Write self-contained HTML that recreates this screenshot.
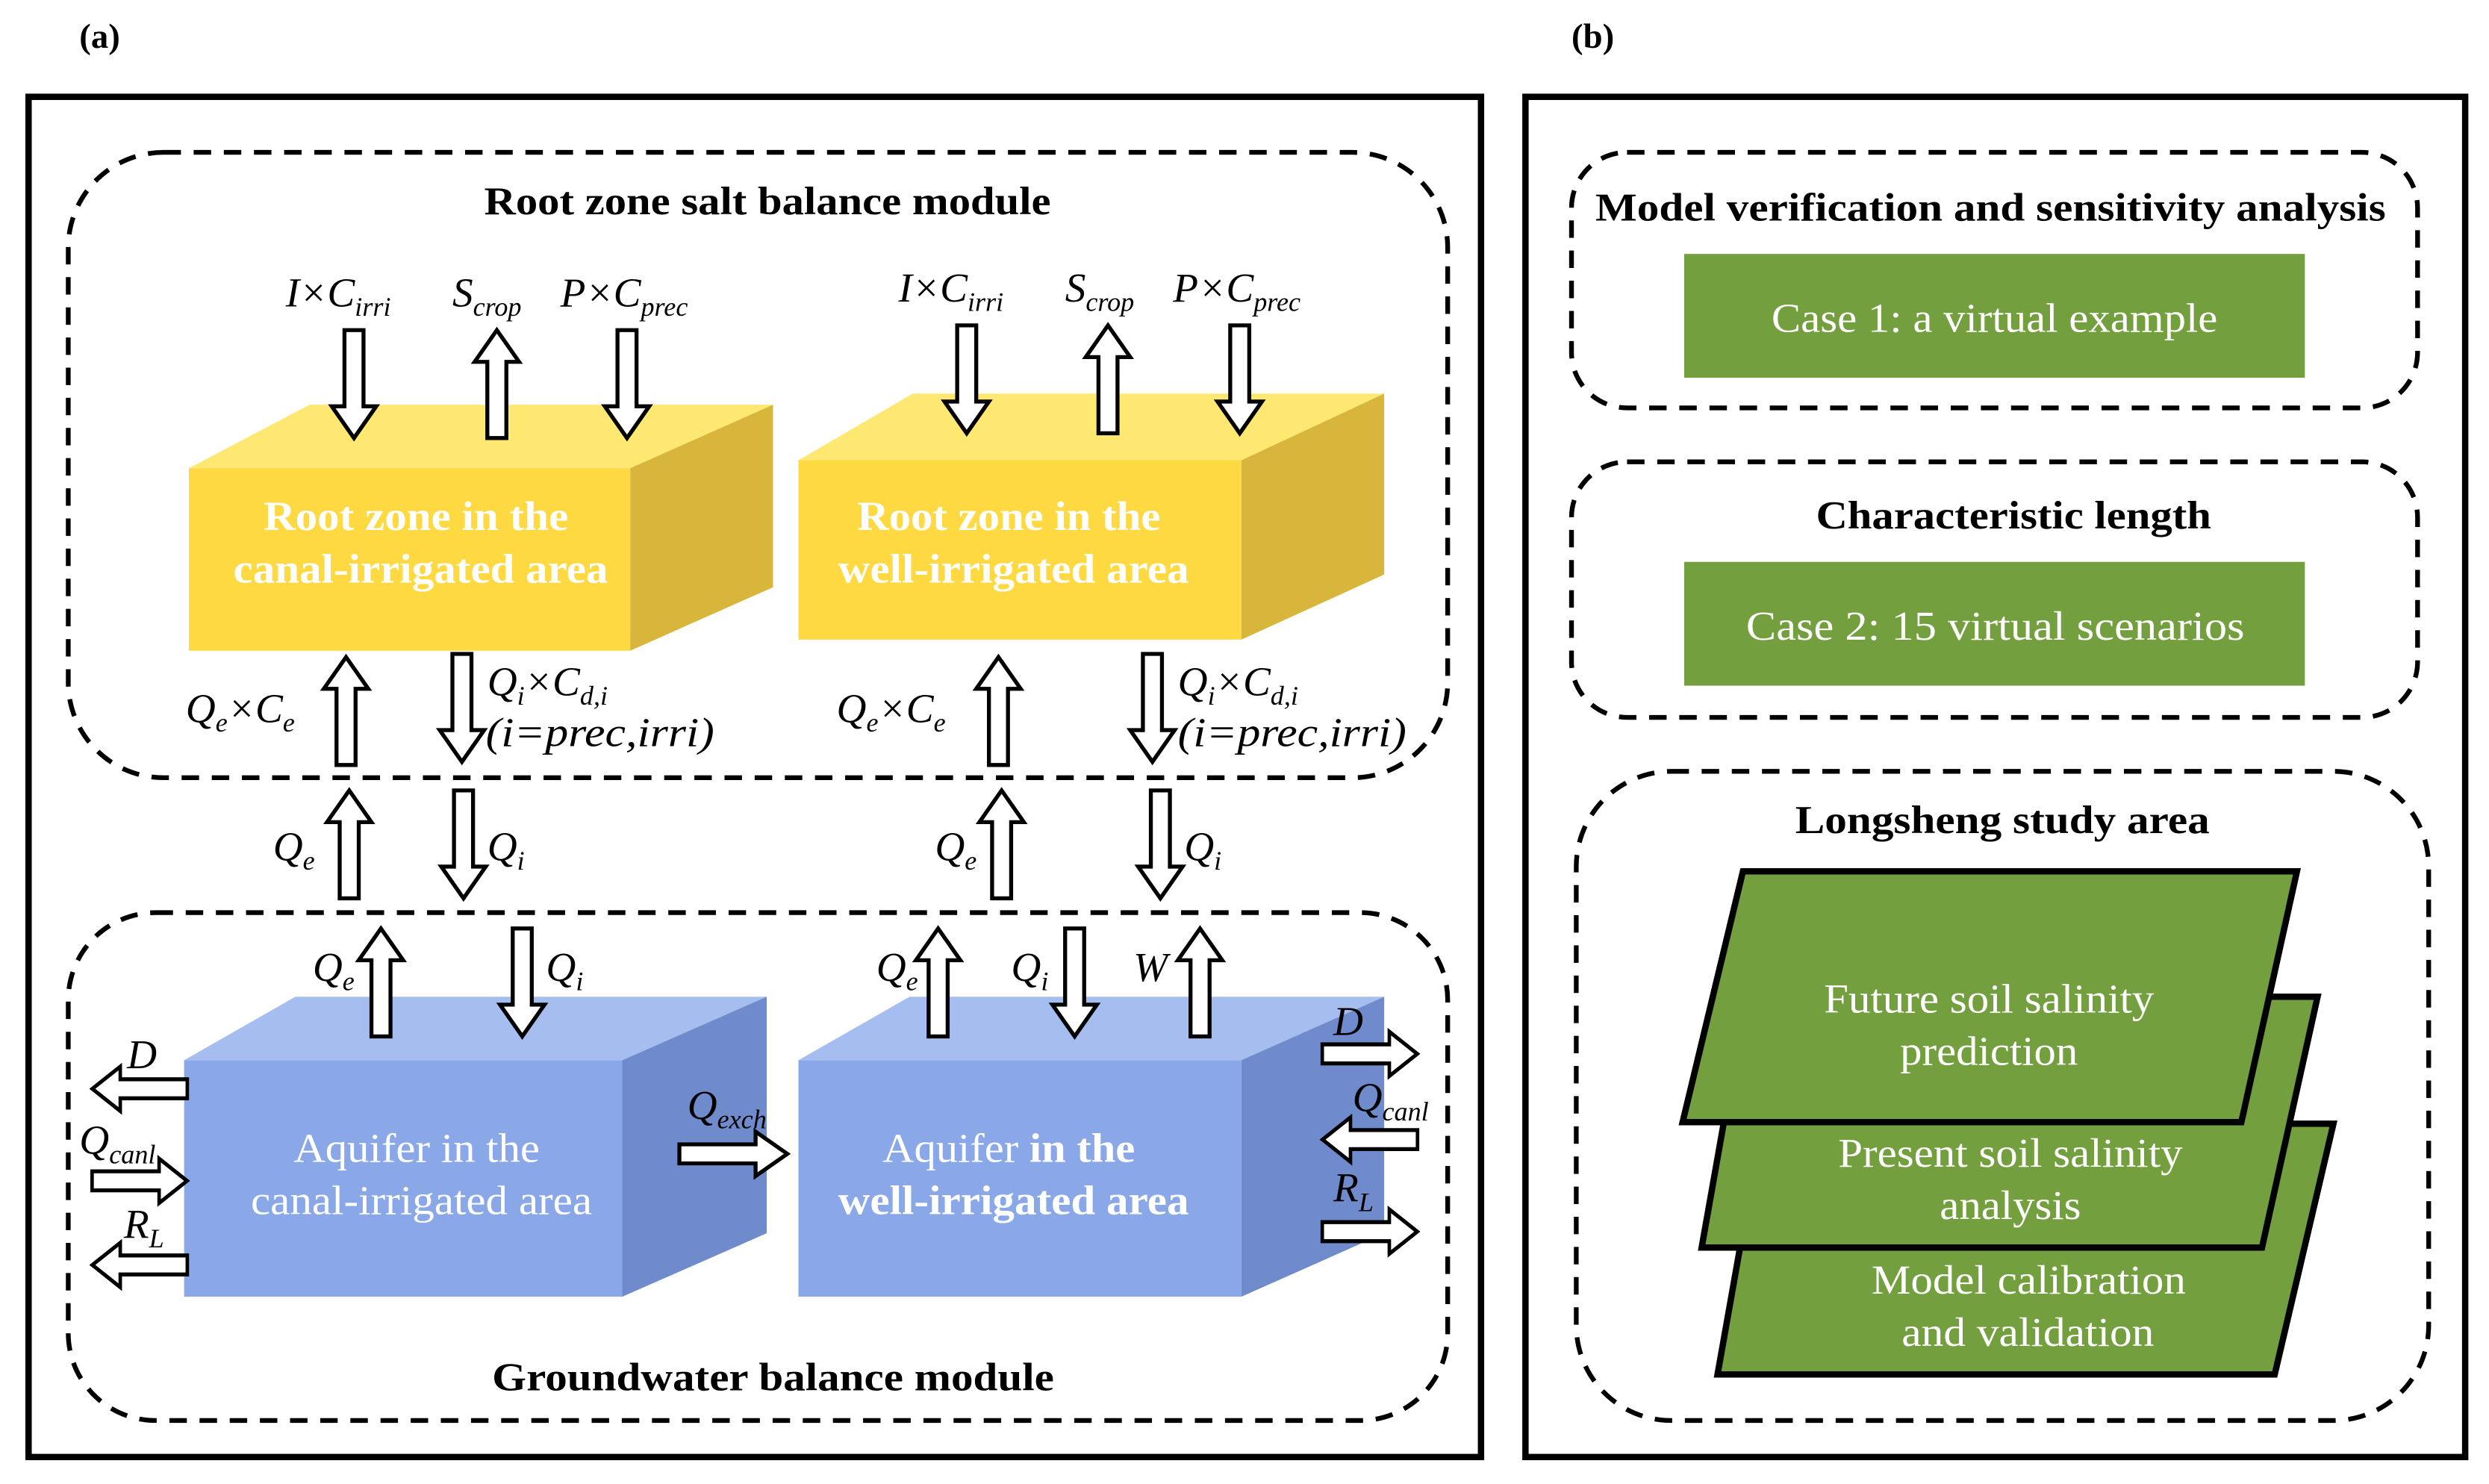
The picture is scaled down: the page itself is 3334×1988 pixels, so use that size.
<!DOCTYPE html>
<html><head><meta charset="utf-8"><style>
html,body{margin:0;padding:0;background:#fff;}
svg{display:block;}
text{font-family:"Liberation Serif",serif;}
.m{font-style:italic;font-size:26px;}
.s{font-size:17px;}
</style></head><body>
<svg width="3334" height="1988" viewBox="0 0 1568 935" preserveAspectRatio="none" xmlns="http://www.w3.org/2000/svg">
<defs>
<polygon id="dn" points="-6,0 6,0 6,48 14,48 0,68 -14,48 -6,48" fill="#fff" stroke="#000" stroke-width="2.5" stroke-linejoin="miter"/>
</defs>
<rect width="1568" height="935" fill="#fff"/>
<text x="50" y="30" font-size="22" font-weight="bold">(a)</text>
<text x="990" y="30" font-size="22" font-weight="bold">(b)</text>
<rect x="18" y="61" width="915" height="857" fill="none" stroke="#000" stroke-width="4"/>
<rect x="961" y="61" width="592" height="857" fill="none" stroke="#000" stroke-width="4"/>
<g fill="none" stroke="#000" stroke-width="3" stroke-dasharray="11,8">
<rect x="43" y="96" width="869" height="394" rx="60"/>
<rect x="43" y="575" width="869" height="320" rx="55"/>
<rect x="990" y="96" width="533" height="161" rx="35"/>
<rect x="990" y="291" width="533" height="161" rx="35"/>
<rect x="993" y="486" width="537" height="409" rx="60"/>
</g>
<g font-size="25" font-weight="bold" lengthAdjust="spacingAndGlyphs">
<text x="305" y="135" textLength="357" lengthAdjust="spacingAndGlyphs">Root zone salt balance module</text>
<text x="310" y="876" textLength="354" lengthAdjust="spacingAndGlyphs">Groundwater balance module</text>
<text x="1005" y="139" textLength="498" lengthAdjust="spacingAndGlyphs">Model verification and sensitivity analysis</text>
<text x="1144" y="333" textLength="249" lengthAdjust="spacingAndGlyphs">Characteristic length</text>
<text x="1131" y="525" textLength="261" lengthAdjust="spacingAndGlyphs">Longsheng study area</text>
</g>
<!-- yellow boxes -->
<polygon points="119,295 195,255 487,255 397,295" fill="#FFE871"/>
<polygon points="397,295 487,255 487,370 397,410" fill="#D8B63C"/>
<rect x="119" y="295" width="278" height="115" fill="#FFD942"/>
<polygon points="503,290 575,248 872,248 782,290" fill="#FFE871"/>
<polygon points="782,290 872,248 872,362 782,403" fill="#D8B63C"/>
<rect x="503" y="290" width="279" height="113" fill="#FFD942"/>
<g fill="#fff" font-size="26" font-weight="bold">
<text x="166" y="334" textLength="192" lengthAdjust="spacingAndGlyphs">Root zone in the</text>
<text x="147" y="367" textLength="236" lengthAdjust="spacingAndGlyphs">canal-irrigated area</text>
<text x="540" y="334" textLength="191" lengthAdjust="spacingAndGlyphs">Root zone in the</text>
<text x="528" y="367" textLength="221" lengthAdjust="spacingAndGlyphs">well-irrigated area</text>
</g>
<!-- blue boxes -->
<polygon points="116,668 186,628 483,628 392,668" fill="#A6BDF0"/>
<polygon points="392,668 483,628 483,777 392,817" fill="#6F8BCC"/>
<rect x="116" y="668" width="276" height="149" fill="#8AA8E8"/>
<polygon points="503,668 573,628 872,628 782,668" fill="#A6BDF0"/>
<polygon points="782,668 872,628 872,777 782,817" fill="#6F8BCC"/>
<rect x="503" y="668" width="279" height="149" fill="#8AA8E8"/>
<g fill="#fff" font-size="26">
<text x="185" y="732" textLength="155" lengthAdjust="spacingAndGlyphs">Aquifer in the</text>
<text x="158" y="765" textLength="215" lengthAdjust="spacingAndGlyphs">canal-irrigated area</text>
<text x="556" y="732" textLength="159" lengthAdjust="spacingAndGlyphs">Aquifer <tspan font-weight="bold">in the</tspan></text>
<text x="528" y="765" font-weight="bold" textLength="221" lengthAdjust="spacingAndGlyphs">well-irrigated area</text>
</g>
<!-- arrows vertical -->
<use href="#dn" transform="translate(223,208)"/>
<use href="#dn" transform="translate(313,276) scale(1,-1)"/>
<use href="#dn" transform="translate(395,208)"/>
<use href="#dn" transform="translate(609,205)"/>
<use href="#dn" transform="translate(698,273) scale(1,-1)"/>
<use href="#dn" transform="translate(781,205)"/>
<use href="#dn" transform="translate(218,482) scale(1,-1)"/>
<use href="#dn" transform="translate(291,412)"/>
<use href="#dn" transform="translate(629,482) scale(1,-1)"/>
<use href="#dn" transform="translate(726,412)"/>
<use href="#dn" transform="translate(220,566) scale(1,-1)"/>
<use href="#dn" transform="translate(292,498)"/>
<use href="#dn" transform="translate(631,566) scale(1,-1)"/>
<use href="#dn" transform="translate(731,498)"/>
<use href="#dn" transform="translate(240,653) scale(1,-1)"/>
<use href="#dn" transform="translate(329,585)"/>
<use href="#dn" transform="translate(591,653) scale(1,-1)"/>
<use href="#dn" transform="translate(677,585)"/>
<use href="#dn" transform="translate(756,653) scale(1,-1)"/>
<!-- horizontal -->
<use href="#dn" transform="translate(118,686) rotate(90) scale(1,0.88)"/>
<use href="#dn" transform="translate(58,744) rotate(-90) scale(1,0.88)"/>
<use href="#dn" transform="translate(118,797) rotate(90) scale(1,0.88)"/>
<use href="#dn" transform="translate(428,727) rotate(-90)"/>
<use href="#dn" transform="translate(833,664) rotate(-90) scale(1,0.88)"/>
<use href="#dn" transform="translate(893,718) rotate(90) scale(1,0.88)"/>
<use href="#dn" transform="translate(833,776) rotate(-90) scale(1,0.88)"/>
<!-- labels -->
<g class="m">
<text x="180" y="193">I×C<tspan class="s" dy="6">irri</tspan></text>
<text x="285" y="193">S<tspan class="s" dy="6">crop</tspan></text>
<text x="353" y="193">P×C<tspan class="s" dy="6">prec</tspan></text>
<text x="566" y="190">I×C<tspan class="s" dy="6">irri</tspan></text>
<text x="671" y="190">S<tspan class="s" dy="6">crop</tspan></text>
<text x="739" y="190">P×C<tspan class="s" dy="6">prec</tspan></text>
<text x="117" y="455">Q<tspan class="s" dy="6">e</tspan><tspan dy="-6">×C</tspan><tspan class="s" dy="6">e</tspan></text>
<text x="307" y="438">Q<tspan class="s" dy="6">i</tspan><tspan dy="-6">×C</tspan><tspan class="s" dy="6">d,i</tspan></text>
<text x="306" y="470" textLength="144" lengthAdjust="spacingAndGlyphs">(i=prec,irri)</text>
<text x="527" y="455">Q<tspan class="s" dy="6">e</tspan><tspan dy="-6">×C</tspan><tspan class="s" dy="6">e</tspan></text>
<text x="742" y="438">Q<tspan class="s" dy="6">i</tspan><tspan dy="-6">×C</tspan><tspan class="s" dy="6">d,i</tspan></text>
<text x="742" y="470" textLength="144" lengthAdjust="spacingAndGlyphs">(i=prec,irri)</text>
<text x="172" y="542">Q<tspan class="s" dy="6">e</tspan></text>
<text x="307" y="542">Q<tspan class="s" dy="6">i</tspan></text>
<text x="589" y="542">Q<tspan class="s" dy="6">e</tspan></text>
<text x="746" y="542">Q<tspan class="s" dy="6">i</tspan></text>
<text x="197" y="618">Q<tspan class="s" dy="6">e</tspan></text>
<text x="344" y="618">Q<tspan class="s" dy="6">i</tspan></text>
<text x="552" y="618">Q<tspan class="s" dy="6">e</tspan></text>
<text x="637" y="618">Q<tspan class="s" dy="6">i</tspan></text>
<text x="714" y="618">W</text>
<text x="80" y="673">D</text>
<text x="50" y="727">Q<tspan class="s" dy="6">canl</tspan></text>
<text x="78" y="780">R<tspan class="s" dy="6">L</tspan></text>
<text x="433" y="705">Q<tspan class="s" dy="6">exch</tspan></text>
<text x="840" y="652">D</text>
<text x="852" y="700">Q<tspan class="s" dy="6">canl</tspan></text>
<text x="840" y="757">R<tspan class="s" dy="6">L</tspan></text>
</g>
<!-- panel b -->
<rect x="1061" y="160" width="391" height="78" fill="#739F3F"/>
<text x="1116" y="209" font-size="26" fill="#fff" textLength="281" lengthAdjust="spacingAndGlyphs">Case 1: a virtual example</text>
<rect x="1061" y="354" width="391" height="78" fill="#739F3F"/>
<text x="1100" y="403" font-size="26" fill="#fff" textLength="314" lengthAdjust="spacingAndGlyphs">Case 2:  15 virtual scenarios</text>
<g stroke="#000" stroke-width="4" fill="#739F3F">
<polygon points="1110,708 1470,708 1433,866 1082,866"/>
<polygon points="1100,628 1460,628 1425,786 1072,786"/>
<polygon points="1098,549 1447,549 1412,707 1060,707"/>
</g>
<g fill="#fff" font-size="26">
<text x="1149" y="638" textLength="208" lengthAdjust="spacingAndGlyphs">Future soil salinity</text>
<text x="1197" y="671" textLength="112" lengthAdjust="spacingAndGlyphs">prediction</text>
<text x="1158" y="735" textLength="217" lengthAdjust="spacingAndGlyphs">Present soil salinity</text>
<text x="1222" y="768" textLength="89" lengthAdjust="spacingAndGlyphs">analysis</text>
<text x="1179" y="815" textLength="198" lengthAdjust="spacingAndGlyphs">Model calibration</text>
<text x="1198" y="848" textLength="159" lengthAdjust="spacingAndGlyphs">and validation</text>
</g>
</svg>
</body></html>
